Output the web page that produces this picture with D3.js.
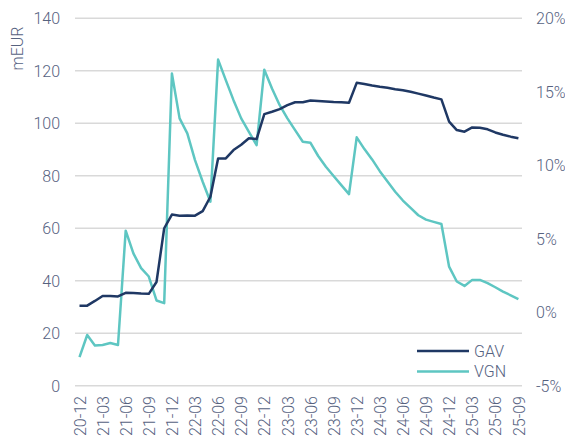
<!DOCTYPE html>
<html><head><meta charset="utf-8">
<script src="https://cdn.jsdelivr.net/npm/d3@7"></script>
<style>
body{margin:0;background:#fff;}
text{font-family:Roboto,"Noto Sans",sans-serif;font-weight:300;fill:#56627f;}
</style></head><body>
<svg id="c" width="565" height="437"></svg>
<script>
const months = ["20-12","21-01","21-02","21-03","21-04","21-05","21-06","21-07","21-08","21-09","21-10","21-11",
"21-12","22-01","22-02","22-03","22-04","22-05","22-06","22-07","22-08","22-09","22-10","22-11",
"22-12","23-01","23-02","23-03","23-04","23-05","23-06","23-07","23-08","23-09","23-10","23-11",
"23-12","24-01","24-02","24-03","24-04","24-05","24-06","24-07","24-08","24-09","24-10","24-11",
"24-12","25-01","25-02","25-03","25-04","25-05","25-06","25-07","25-08","25-09"];
const tickLabels = ["20-12","21-03","21-06","21-09","21-12","22-03","22-06","22-09","22-12","23-03","23-06","23-09","23-12","24-03","24-06","24-09","24-12","25-03","25-06","25-09"];
const gav = [30.5,30.5,32.3,34.2,34.2,34.0,35.4,35.3,35.1,35.0,39.5,60.0,
65.2,64.8,64.9,64.8,66.5,72.0,86.6,86.6,89.8,91.8,94.3,94.0,
103.5,104.4,105.4,106.9,108.0,108.0,108.7,108.5,108.3,108.1,108.0,107.8,
115.4,115.0,114.4,113.9,113.5,113.0,112.6,112.0,111.3,110.6,109.8,109.1,
100.6,97.4,96.8,98.4,98.3,97.7,96.5,95.6,94.9,94.3];
const vgn = [-3.05,-1.55,-2.26,-2.23,-2.1,-2.23,5.55,4.0,3.0,2.43,0.8,0.62,
16.24,13.19,12.17,10.35,8.88,7.52,17.19,15.79,14.43,13.19,12.28,11.37,
16.5,15.22,14.09,13.19,12.39,11.6,11.53,10.63,9.9,9.27,8.65,8.04,
11.9,11.1,10.4,9.6,8.9,8.2,7.6,7.1,6.6,6.3,6.15,6.0,
3.1,2.09,1.79,2.2,2.2,1.98,1.7,1.4,1.15,0.89];
const leftTicks = [0,20,40,60,80,100,120,140];
const rightTicks = [-5,0,5,10,15,20];

const svg = d3.select("#c");
const x = d3.scalePoint().domain(months).range([79.5, 518.4]);
const yL = d3.scaleLinear().domain([0,140]).range([385.7, 18.3]);
const yR = d3.scaleLinear().domain([-5,20]).range([385.7, 18.3]);

// grid
svg.append("g").selectAll("line").data(leftTicks).join("line")
  .attr("x1",75).attr("x2",522).attr("y1",d=>yL(d)).attr("y2",d=>yL(d))
  .attr("stroke","#d9d9d9").attr("stroke-width",1.5);

// left axis
const gl = svg.append("g").attr("transform","translate(60,0)")
  .call(d3.axisLeft(yL).tickValues(leftTicks).tickSize(0).tickPadding(0));
gl.select(".domain").remove();
gl.selectAll("text").attr("font-size",16).attr("dy","0.35em").style("font-family","Roboto, sans-serif");

// right axis
const gr = svg.append("g").attr("transform","translate(536,0)")
  .call(d3.axisRight(yR).tickValues(rightTicks).tickSize(0).tickPadding(0).tickFormat(d=>d+"%"));
gr.select(".domain").remove();
gr.selectAll("text").attr("font-size",16).attr("dy","0.35em").style("font-family","Roboto, sans-serif");

// bottom axis
const gb = svg.append("g").attr("transform","translate(0,396)")
  .call(d3.axisBottom(x).tickValues(tickLabels).tickSize(0).tickPadding(0));
gb.select(".domain").remove();
gb.selectAll("text").attr("font-size",16).attr("text-anchor","end")
  .attr("transform","rotate(-90)").attr("x",0).attr("y",0).attr("dy","0.35em")
  .style("font-family","Roboto, sans-serif");

// y label
svg.append("text").attr("transform","translate(17.5,48.5) rotate(-90)")
  .attr("text-anchor","middle").attr("dy","0.35em").attr("font-size",16).text("mEUR");

// lines
svg.append("path").datum(vgn)
  .attr("fill","none").attr("stroke","#5ec6c2").attr("stroke-width",2.5).attr("stroke-linejoin","round")
  .attr("d", d3.line().x((d,i)=>x(months[i])).y(d=>yR(d)));
svg.append("path").datum(gav)
  .attr("fill","none").attr("stroke","#1f3864").attr("stroke-width",2.5).attr("stroke-linejoin","round")
  .attr("d", d3.line().x((d,i)=>x(months[i])).y(d=>yL(d)));

// legend
const leg = [{n:"GAV",c:"#1f3864",y:351},{n:"VGN",c:"#5ec6c2",y:371.5}];
const lg = svg.append("g");
lg.selectAll("line").data(leg).join("line")
  .attr("x1",417).attr("x2",469).attr("y1",d=>d.y).attr("y2",d=>d.y)
  .attr("stroke",d=>d.c).attr("stroke-width",2.5);
lg.selectAll("text").data(leg).join("text")
  .attr("x",474).attr("y",d=>d.y).attr("dy","0.35em").attr("font-size",16).text(d=>d.n);
</script>
</body></html>
